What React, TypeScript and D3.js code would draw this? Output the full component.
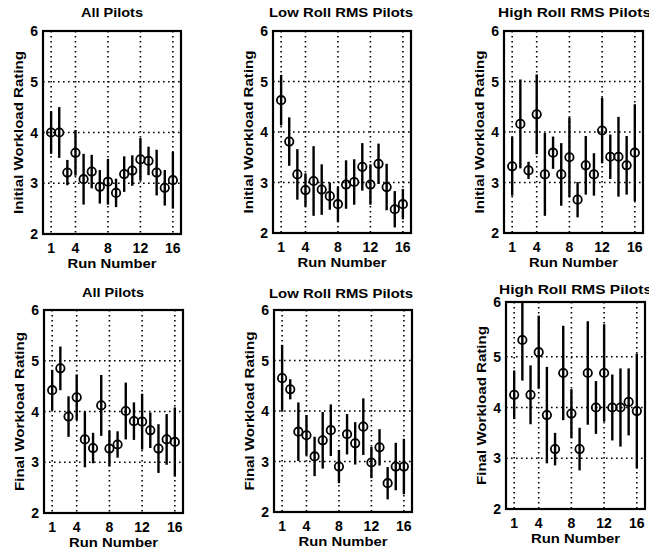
import React from "react";
import * as d3 from "d3";

const runNumbers = [1, 2, 3, 4, 5, 6, 7, 8, 9, 10, 11, 12, 13, 14, 15, 16];
const xTicks = [1, 4, 8, 12, 16];
const yTicks = [2, 3, 4, 5, 6];
const gridY = [3, 4, 5];

const titles = [
  "All Pilots",
  "Low Roll RMS Pilots",
  "High Roll RMS Pilots",
  "All Pilots",
  "Low Roll RMS Pilots",
  "High Roll RMS Pilots",
];
const yLabels = [
  "Initial Workload Rating",
  "Initial Workload Rating",
  "Initial Workload Rating",
  "Final Workload Rating",
  "Final Workload Rating",
  "Final Workload Rating",
];
const xLabel = "Run Number";

const allInitialMean = [4.0, 4.0, 3.21, 3.6, 3.08, 3.23, 2.93, 3.03, 2.81, 3.18, 3.25, 3.47, 3.44, 3.21, 2.91, 3.06];
const allInitialErr = [0.42, 0.5, 0.25, 0.45, 0.5, 0.33, 0.33, 0.45, 0.28, 0.35, 0.3, 0.42, 0.28, 0.45, 0.35, 0.56];

const lowInitialMean = [4.63, 3.81, 3.16, 2.85, 3.03, 2.86, 2.73, 2.57, 2.96, 3.01, 3.31, 2.96, 3.37, 2.91, 2.47, 2.57];
const lowInitialErr = [0.5, 0.48, 0.5, 0.33, 0.69, 0.5, 0.27, 0.35, 0.48, 0.45, 0.47, 0.4, 0.4, 0.46, 0.36, 0.3];

const highInitialMean = [3.32, 4.16, 3.24, 4.35, 3.16, 3.59, 3.16, 3.5, 2.66, 3.34, 3.16, 4.03, 3.51, 3.51, 3.34, 3.59];
const highInitialErr = [0.58, 0.88, 0.17, 0.79, 0.82, 0.32, 0.62, 0.79, 0.35, 0.58, 0.42, 0.65, 0.44, 0.79, 0.58, 0.96];

const allFinalMean = [4.42, 4.85, 3.9, 4.28, 3.45, 3.28, 4.12, 3.27, 3.35, 4.01, 3.81, 3.8, 3.63, 3.27, 3.45, 3.4];
const allFinalErr = [0.4, 0.43, 0.4, 0.45, 0.55, 0.3, 0.6, 0.35, 0.26, 0.56, 0.37, 0.55, 0.35, 0.48, 0.5, 0.68];

const lowFinalMean = [4.65, 4.43, 3.59, 3.52, 3.1, 3.42, 3.62, 2.9, 3.54, 3.36, 3.69, 2.98, 3.28, 2.57, 2.9, 2.9];
const lowFinalErr = [0.66, 0.2, 0.58, 0.4, 0.39, 0.56, 0.51, 0.33, 0.4, 0.42, 0.56, 0.31, 0.36, 0.32, 0.47, 0.55];

const highFinalMean = [4.25, 5.33, 4.25, 5.09, 3.85, 3.18, 4.68, 3.88, 3.18, 4.68, 4.0, 4.68, 4.0, 4.0, 4.11, 3.93];
const highFinalErr = [0.48, 0.8, 0.58, 0.72, 0.95, 0.32, 0.93, 0.48, 0.42, 1.02, 0.52, 0.96, 0.65, 0.77, 0.66, 1.13];

const means = [allInitialMean, lowInitialMean, highInitialMean, allFinalMean, lowFinalMean, highFinalMean];
const errs = [allInitialErr, lowInitialErr, highInitialErr, allFinalErr, lowFinalErr, highFinalErr];

// layout per panel: plot box, pixel row of value 6, title placement and text widths
const layout = [
  { l: 43, r: 181, t: 31, b: 234, y6: 31, titleY: 17, titleX: 81, titleW: 62, yLabW: 163 },
  { l: 273, r: 411, t: 31, b: 233, y6: 31, titleY: 17, titleX: 269, titleW: 144, yLabW: 163 },
  { l: 504, r: 643, t: 31, b: 233, y6: 31, titleY: 17, titleX: 498, titleW: 153, yLabW: 163 },
  { l: 44, r: 183, t: 310, b: 513, y6: 310, titleY: 297, titleX: 82, titleW: 62, yLabW: 159 },
  { l: 274, r: 412, t: 310, b: 512, y6: 310, titleY: 298, titleX: 269, titleW: 144, yLabW: 159 },
  { l: 506, r: 645, t: 302, b: 509, y6: 306, titleY: 294, titleX: 499, titleW: 153, yLabW: 159 },
];

const FONT = "'Liberation Sans', Arial, Helvetica, sans-serif";

function Panel({ i }: { i: number }) {
  const L = layout[i];
  const x = d3.scaleLinear().domain([0, 17]).range([L.l, L.r]);
  const y = d3.scaleLinear().domain([2, 6]).range([L.b, L.y6]);
  const m = means[i];
  const e = errs[i];
  const clipId = `clip${i}`;
  return (
    <g>
      <defs>
        <clipPath id={clipId}>
          <rect x={L.l} y={L.t} width={L.r - L.l} height={L.b - L.t} />
        </clipPath>
      </defs>
      <text
        x={L.titleX}
        y={L.titleY}
        textAnchor="start"
        fontSize={12}
        fontWeight="bold"
        fontFamily={FONT}
        textLength={L.titleW}
        lengthAdjust="spacingAndGlyphs"
      >
        {titles[i]}
      </text>
      {/* grid */}
      <g stroke="#000" strokeWidth={1.6} strokeDasharray="1.6 3.4" fill="none">
        {xTicks.map((t) => (
          <line key={"gx" + t} x1={x(t)} x2={x(t)} y1={L.t} y2={L.b} />
        ))}
        {gridY.map((t) => (
          <line key={"gy" + t} x1={L.l} x2={L.r} y1={y(t)} y2={y(t)} />
        ))}
      </g>
      {/* data */}
      <g clipPath={`url(#${clipId})`}>
        {runNumbers.map((r, k) => (
          <g key={r}>
            <line x1={x(r)} x2={x(r)} y1={y(m[k] - e[k])} y2={y(m[k] + e[k])} stroke="#000" strokeWidth={2.4} />
            <circle cx={x(r)} cy={y(m[k])} r={4.2} fill="none" stroke="#000" strokeWidth={1.8} />
          </g>
        ))}
      </g>
      <rect x={L.l} y={L.t} width={L.r - L.l} height={L.b - L.t} fill="none" stroke="#000" strokeWidth={2.2} />
      {/* y ticks */}
      {yTicks.map((t) => (
        <text
          key={"yt" + t}
          x={L.l - 5}
          y={t === 6 ? L.t + 5 : y(t) + 5}
          textAnchor="end"
          fontSize={14}
          fontWeight="bold"
          fontFamily={FONT}
        >
          {t}
        </text>
      ))}
      {/* x ticks */}
      {xTicks.map((t) => (
        <text key={"xt" + t} x={x(t)} y={L.b + 19} textAnchor="middle" fontSize={14} fontWeight="bold" fontFamily={FONT}>
          {t}
        </text>
      ))}
      <text
        x={(L.l + L.r) / 2}
        y={L.b + 34}
        textAnchor="middle"
        fontSize={13}
        fontWeight="bold"
        fontFamily={FONT}
        textLength={89}
        lengthAdjust="spacingAndGlyphs"
      >
        {xLabel}
      </text>
      <text
        transform={`translate(${L.l - 20},${(L.t + L.b) / 2}) rotate(-90)`}
        textAnchor="middle"
        fontSize={13}
        fontWeight="bold"
        fontFamily={FONT}
        textLength={L.yLabW}
        lengthAdjust="spacingAndGlyphs"
      >
        {yLabels[i]}
      </text>
    </g>
  );
}

export default function App() {
  return (
    <svg
      width={649}
      height={556}
      viewBox="0 0 649 556"
      style={{ position: "absolute", left: 0, top: 0, background: "#fff" }}
    >
      <rect width={649} height={556} fill="#fff" />
      {layout.map((_, i) => (
        <Panel key={i} i={i} />
      ))}
    </svg>
  );
}
